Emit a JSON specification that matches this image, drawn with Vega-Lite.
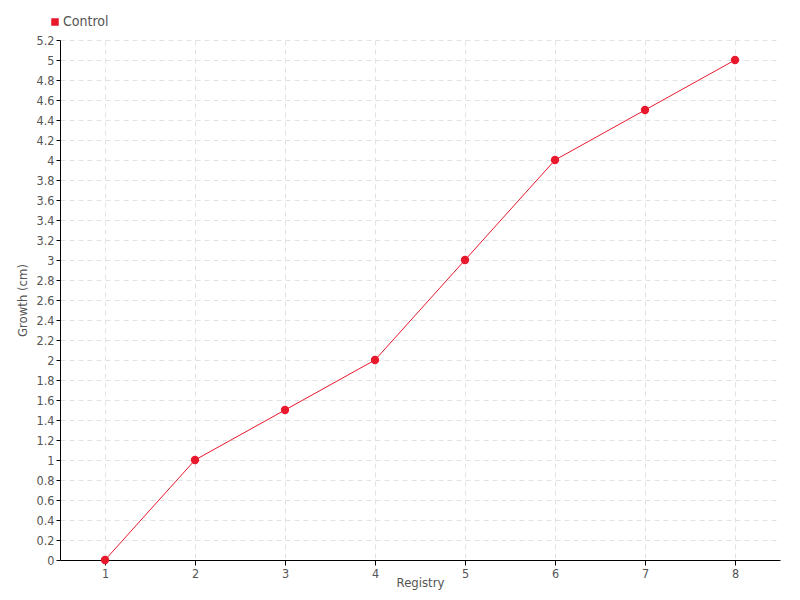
{
  "$schema": "https://vega.github.io/schema/vega-lite/v6.json",
  "width": 720,
  "height": 520,
  "autosize": {"type": "none"},
  "padding": {"left": 60, "top": 40, "right": 20, "bottom": 40},
  "background": "#ffffff",
  "config": {
    "view": {"stroke": null},
    "font": "Liberation Sans Narrow, DejaVu Sans Condensed, sans-serif",
    "axis": {
      "labelFont": "Liberation Sans Narrow, DejaVu Sans Condensed, sans-serif",
      "titleFont": "Liberation Sans Narrow, DejaVu Sans Condensed, sans-serif",
      "labelFontSize": 12.5,
      "titleFontSize": 13,
      "labelColor": "#555555",
      "titleColor": "#555555",
      "titleFontWeight": "normal",
      "domainColor": "#000000",
      "tickColor": "#000000",
      "gridColor": "#e2e2e2",
      "gridDash": [5, 4]
    }
  },
  "data": {
    "values": [
      {"registry": 1, "growth": 0, "group": "Control"},
      {"registry": 2, "growth": 1, "group": "Control"},
      {"registry": 3, "growth": 1.5, "group": "Control"},
      {"registry": 4, "growth": 2, "group": "Control"},
      {"registry": 5, "growth": 3, "group": "Control"},
      {"registry": 6, "growth": 4, "group": "Control"},
      {"registry": 7, "growth": 4.5, "group": "Control"},
      {"registry": 8, "growth": 5, "group": "Control"}
    ]
  },
  "encoding": {
    "x": {
      "field": "registry",
      "type": "quantitative",
      "scale": {"domain": [0.5, 8.5], "nice": false, "zero": false},
      "axis": {
        "title": "Registry",
        "values": [1, 2, 3, 4, 5, 6, 7, 8],
        "format": "d",
        "tickSize": 5,
        "labelPadding": 2,
        "titleY": 26,
        "titleBaseline": "alphabetic"
      }
    },
    "y": {
      "field": "growth",
      "type": "quantitative",
      "scale": {"domain": [0, 5.2], "nice": false},
      "axis": {
        "title": "Growth (cm)",
        "values": [0, 0.2, 0.4, 0.6, 0.8, 1, 1.2, 1.4, 1.6, 1.8, 2, 2.2, 2.4, 2.6, 2.8, 3, 3.2, 3.4, 3.6, 3.8, 4, 4.2, 4.4, 4.6, 4.8, 5, 5.2],
        "format": "~g",
        "tickSize": 4,
        "labelPadding": 2,
        "titleX": -31,
        "titleY": 260,
        "titleBaseline": "bottom"
      }
    },
    "color": {
      "field": "group",
      "type": "nominal",
      "scale": {"range": ["#e8192c"]},
      "legend": {
        "title": null,
        "orient": "none",
        "legendX": -12,
        "legendY": -25,
        "symbolType": "square",
        "symbolSize": 36,
        "labelFontSize": 14,
        "labelColor": "#555555",
        "labelFont": "Liberation Sans Narrow, DejaVu Sans Condensed, sans-serif",
        "labelOffset": 1
      }
    }
  },
  "layer": [
    {"mark": {"type": "line", "strokeWidth": 1, "color": "#ff3a4c"}},
    {"mark": {"type": "point", "filled": true, "size": 70, "opacity": 1}}
  ]
}
